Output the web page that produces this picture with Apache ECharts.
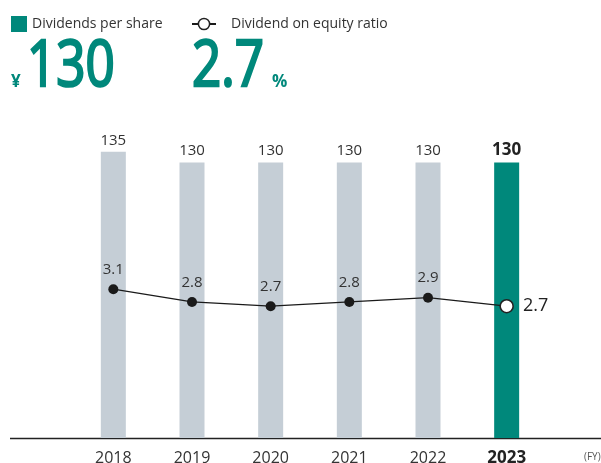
<!DOCTYPE html>
<html>
<head>
<meta charset="utf-8">
<script src="https://cdn.jsdelivr.net/npm/echarts@6/dist/echarts.min.js"></script>
<style>
html, body { margin: 0; padding: 0; background: #fff; }
#main { width: 601px; height: 463px; }
</style>
</head>
<body>
<div id="main"></div>
<script>
var years = ['2018', '2019', '2020', '2021', '2022', '2023'];
var dividends = [135, 130, 130, 130, 130, 130];
var equityRatio = [3.1, 2.8, 2.7, 2.8, 2.9, 2.7];

var teal = '#00887b';
var grey = '#c5ced6';
var font = '"Open Sans", "Noto Sans", sans-serif';

var chart = echarts.init(document.getElementById('main'), null, {renderer: 'canvas'});

var last = years.length - 1;

var barData = dividends.map(function (v, i) {
    if (i == last) {
        return {value: v, itemStyle: {color: teal},
            label: {fontSize: 17, fontWeight: 'bold', color: '#222'}};
    }
    return v;
});

var lineData = equityRatio.map(function (v, i) {
    if (i == last) {
        return {value: v, symbolSize: 13,
            itemStyle: {color: '#fff', borderColor: '#222', borderWidth: 1.6},
            label: {position: 'right', distance: 9, fontSize: 18, color: '#222'}};
    }
    return v;
});

var option = {
    animation: false,
    textStyle: {fontFamily: font},
    legend: [{
        left: 11, top: 16, padding: 0, itemWidth: 16, itemHeight: 16, icon: 'rect',
        textStyle: {fontSize: 14, color: '#333', fontFamily: font},
        data: [{name: 'Dividends per share', itemStyle: {color: teal}}]
    }, {
        left: 191, top: 17, padding: 0, itemWidth: 24, itemHeight: 14,
        textStyle: {fontSize: 14, color: '#333', fontFamily: font, padding: [0, 0, 0, 10]},
        data: [{name: 'Dividend on equity ratio',
            itemStyle: {color: '#fff', borderColor: '#222', borderWidth: 1.5}}]
    }],
    grid: {left: 74, right: 55, top: 120, bottom: 25, outerBoundsMode: 'none', containLabel: false},
    xAxis: {
        type: 'category',
        data: years,
        axisLine: {show: false},
        axisTick: {show: false},
        axisLabel: {
            interval: 0,
            fontSize: 16, color: '#333', margin: 12, fontFamily: font,
            formatter: function (v) {
                return v == years[last] ? '{b|' + v + '}' : v;
            },
            rich: {b: {fontSize: 17, fontWeight: 'bold', color: '#222', fontFamily: font}}
        }
    },
    yAxis: [{
        type: 'value', min: 0, max: 150, show: false, splitLine: {show: false}
    }, {
        type: 'value', min: -0.4, max: 7.08, show: false, splitLine: {show: false}
    }],
    series: [{
        name: 'Dividends per share',
        type: 'bar',
        barWidth: 25,
        itemStyle: {color: grey},
        label: {show: true, position: 'top', distance: 4, fontSize: 15, color: '#333', fontFamily: font},
        data: barData
    }, {
        name: 'Dividend on equity ratio',
        type: 'line',
        yAxisIndex: 1,
        symbol: 'circle',
        symbolSize: 10,
        itemStyle: {color: '#1a1a1a'},
        lineStyle: {color: '#1a1a1a', width: 1.2},
        label: {show: true, position: 'top', distance: 7, fontSize: 15, color: '#333', fontFamily: font},
        data: lineData,
        z: 5
    }],
    graphic: [{
        type: 'line', shape: {x1: 10, y1: 438.5, x2: 601, y2: 438.5},
        style: {stroke: '#222', lineWidth: 1.5}
    }, {
        type: 'text', left: 11, top: 74,
        style: {text: '¥', fontSize: 17, fontWeight: 'bold', fill: teal, fontFamily: font}
    }, {
        type: 'text', x: 27, y: 36, scaleX: 0.8,
        style: {text: '130', fontSize: 64, fill: teal, stroke: teal, lineWidth: 2.5, fontFamily: font}
    }, {
        type: 'text', x: 192, y: 36, scaleX: 0.8,
        style: {text: '2.7', fontSize: 64, fill: teal, stroke: teal, lineWidth: 2.5, fontFamily: font}
    }, {
        type: 'text', left: 272, top: 74,
        style: {text: '%', fontSize: 17, fontWeight: 'bold', fill: teal, fontFamily: font}
    }, {
        type: 'text', left: 584, top: 452,
        style: {text: '(FY)', fontSize: 10, fill: '#555', fontFamily: font}
    }]
};

chart.setOption(option);
</script>
</body>
</html>
